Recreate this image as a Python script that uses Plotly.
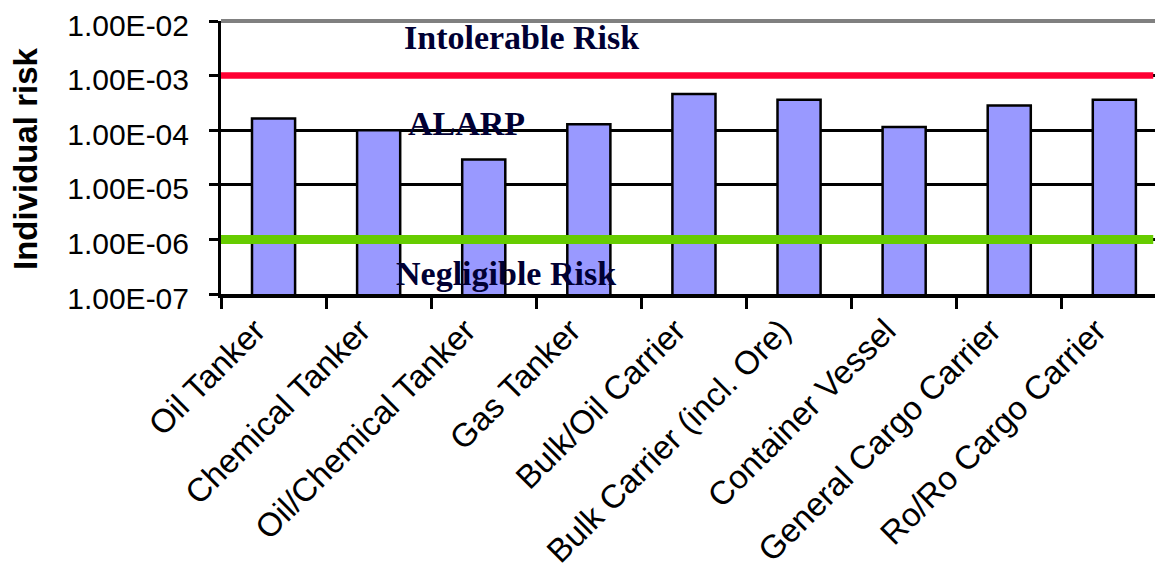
import plotly.graph_objects as go

categories = ["Oil Tanker", "Chemical Tanker", "Oil/Chemical Tanker", "Gas Tanker",
              "Bulk/Oil Carrier", "Bulk Carrier (incl. Ore)", "Container Vessel",
              "General Cargo Carrier", "Ro/Ro Cargo Carrier"]
individual_risk = [1.64e-4, 1.0e-4, 2.9e-5, 1.28e-4, 4.6e-4, 3.63e-4, 1.15e-4, 2.83e-4, 3.63e-4]

tick_values = [1e-7, 1e-6, 1e-5, 1e-4, 1e-3, 1e-2]
tick_labels = ["1.00E-07", "1.00E-06", "1.00E-05", "1.00E-04", "1.00E-03", "1.00E-02"]

intolerable_limit = 1e-3
negligible_limit = 1e-6
limit_line_x = [-0.5, 8.37]   # extent of the criteria lines (category index units)

zone_labels = ["Intolerable Risk", "ALARP", "Negligible Risk"]

# page body has an 8px default margin: size the figure so it fits the window exactly
OFF = 8
W, H = 1163 - OFF, 569 - OFF
L, R, T, B = 221 - OFF, 0, 21 - OFF, 569 - 294
pw, ph = W - L - R, H - T - B

def px(x):   # screen pixel -> paper
    return (x - OFF - L) / pw

def py(y):
    return (H - B - (y - OFF)) / ph

fig = go.Figure()

fig.add_trace(go.Bar(
    x=categories, y=individual_risk, width=0.41,
    marker=dict(color="#9999ff", line=dict(color="black", width=2.5)),
    showlegend=False, hoverinfo="x+y",
))

fig.add_trace(go.Scatter(
    x=limit_line_x, y=[intolerable_limit] * 2, xaxis="x2", yaxis="y",
    mode="lines", line=dict(color="#ff0033", width=6.5), showlegend=False,
))
fig.add_trace(go.Scatter(
    x=limit_line_x, y=[negligible_limit] * 2, xaxis="x2", yaxis="y",
    mode="lines", line=dict(color="#66cc00", width=9), showlegend=False,
))

sans = "Liberation Sans, Arial, sans-serif"
serif = "Liberation Serif, Times New Roman, serif"

fig.update_layout(
    width=W, height=H,
    margin=dict(l=L, r=R, t=T, b=B, autoexpand=False),
    paper_bgcolor="white", plot_bgcolor="white",
    xaxis=dict(
        type="category", range=[-0.5, 8.463], automargin=False,
        showline=True, linecolor="black", linewidth=4,
        ticks="outside", tickson="boundaries", ticklen=11, tickwidth=3, tickcolor="black",
        tickangle=-45, ticklabelshift=-18, ticklabeloverflow="allow",
        tickfont=dict(family=sans, size=33, color="black"),
        showgrid=False, fixedrange=True,
    ),
    xaxis2=dict(
        overlaying="x", range=[-0.5, 8.463], visible=False, showgrid=False,
        fixedrange=True,
    ),
    yaxis=dict(
        type="log", range=[-7, -2], automargin=False,
        tickvals=tick_values, ticktext=tick_labels,
        showline=True, linecolor="black", linewidth=3,
        ticks="outside", ticklen=9, tickwidth=3, tickcolor="black",
        ticklabelstandoff=14, ticklabelshift=4, ticklabeloverflow="allow",
        tickfont=dict(family=sans, size=30, color="black"),
        showgrid=True, gridcolor="black", gridwidth=3,
        zeroline=False, fixedrange=True,
    ),
    shapes=[dict(type="line", xref="paper", yref="paper", x0=0, x1=1, y0=1, y1=1,
                 line=dict(color="#808080", width=4), layer="above")],
    annotations=[
        dict(text="Individual risk", xref="paper", yref="paper", x=px(25), y=py(159),
             xanchor="center", yanchor="middle", textangle=-90, showarrow=False,
             font=dict(family=sans, size=33, color="black", weight="bold")),
        dict(text=zone_labels[0], xref="paper", yref="paper", x=px(521.5), y=py(37.5),
             xanchor="center", yanchor="middle", showarrow=False,
             font=dict(family=serif, size=34, color="#000033", weight="bold")),
        dict(text=zone_labels[1], xref="paper", yref="paper", x=px(466.5), y=py(123.5),
             xanchor="center", yanchor="middle", showarrow=False,
             font=dict(family=serif, size=34, color="#000033", weight="bold")),
        dict(text=zone_labels[2], xref="paper", yref="paper", x=px(505.5), y=py(273),
             xanchor="center", yanchor="middle", showarrow=False,
             font=dict(family=serif, size=34, color="#000033", weight="bold")),
    ],
)

fig.write_html("out.html", config={"displayModeBar": False})
